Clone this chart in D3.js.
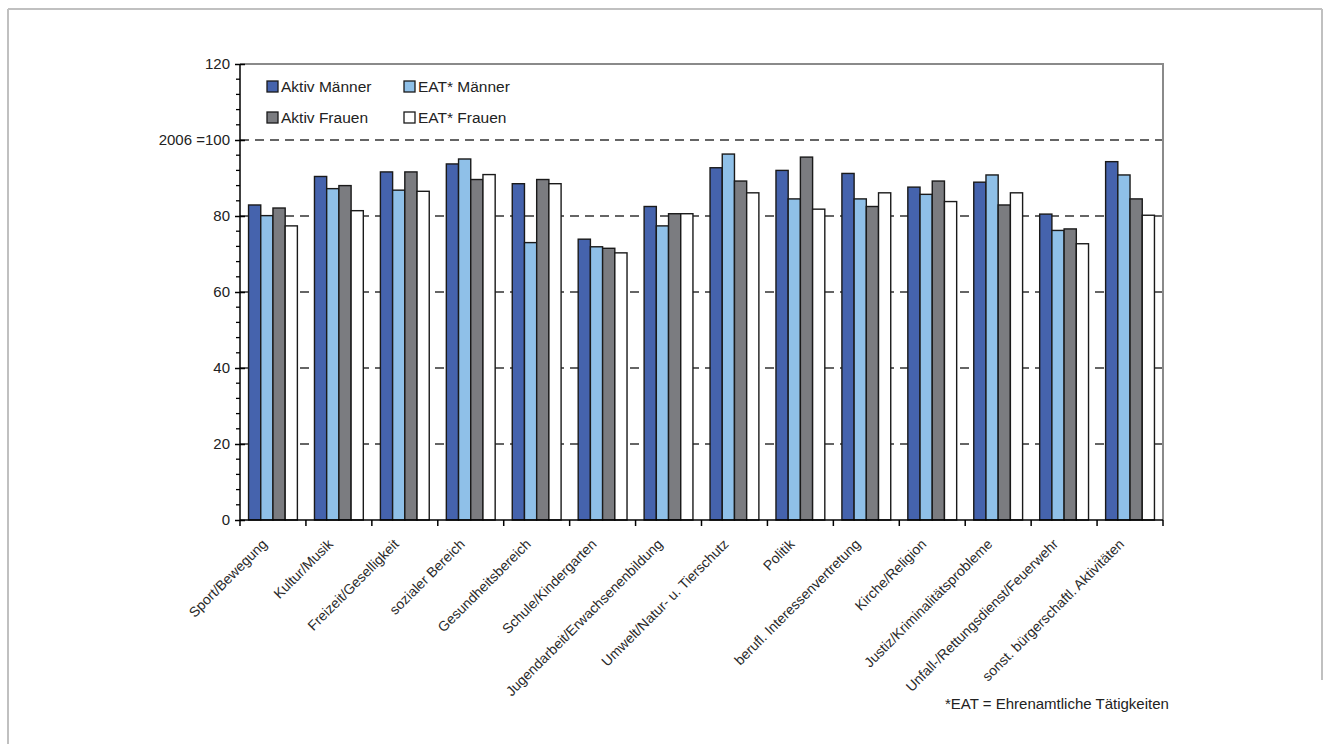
<!DOCTYPE html>
<html>
<head>
<meta charset="utf-8">
<script src="https://cdn.jsdelivr.net/npm/d3@7"></script>
<style>
  html, body { margin: 0; padding: 0; background: #fff; }
  svg { display: block; font-family: "Liberation Sans", Arial, sans-serif; }
</style>
</head>
<body>
<svg id="chart" width="1331" height="744"></svg>
<script>
// Engagement index by field, 2006 = 100
const categories = [
  "Sport/Bewegung", "Kultur/Musik", "Freizeit/Geselligkeit", "sozialer Bereich",
  "Gesundheitsbereich", "Schule/Kindergarten", "Jugendarbeit/Erwachsenenbildung",
  "Umwelt/Natur- u. Tierschutz", "Politik", "berufl. Interessenvertretung",
  "Kirche/Religion", "Justiz/Kriminalitätsprobleme", "Unfall-/Rettungsdienst/Feuerwehr",
  "sonst. bürgerschaftl. Aktivitäten"
];
const seriesNames = ["Aktiv Männer", "EAT* Männer", "Aktiv Frauen", "EAT* Frauen"];
const aktivMaenner = [82.9, 90.4, 91.6, 93.7, 88.5, 73.9, 82.5, 92.7, 92.0, 91.2, 87.6, 88.9, 80.5, 94.3];
const eatMaenner   = [80.1, 87.2, 86.8, 95.0, 73.0, 71.9, 77.4, 96.3, 84.5, 84.5, 85.7, 90.8, 76.2, 90.8];
const aktivFrauen  = [82.1, 88.0, 91.6, 89.6, 89.6, 71.5, 80.6, 89.2, 95.5, 82.5, 89.2, 82.9, 76.6, 84.5];
const eatFrauen    = [77.4, 81.4, 86.5, 90.9, 88.5, 70.3, 80.6, 86.1, 81.8, 86.1, 83.8, 86.1, 72.7, 80.2];
const yTicks = [0, 20, 40, 60, 80, 100, 120];
const yTickLabels = ["0", "20", "40", "60", "80", "2006 =100", "120"];
const footnote = "*EAT = Ehrenamtliche Tätigkeiten";

const seriesValues = [aktivMaenner, eatMaenner, aktivFrauen, eatFrauen];
const colors = ["#4563ad", "#8fc0e8", "#7b7c80", "#ffffff"];

const svg = d3.select("#chart");

// page frame
const frame = svg.append("g").attr("stroke", "#c0c0c0").attr("stroke-width", 2);
frame.append("line").attr("x1", 8).attr("x2", 1322).attr("y1", 9).attr("y2", 9);
frame.append("line").attr("x1", 8).attr("x2", 8).attr("y1", 9).attr("y2", 744);
frame.append("line").attr("x1", 1322).attr("x2", 1322).attr("y1", 9).attr("y2", 680);

const m = { left: 240, right: 1163, top: 64, bottom: 520 };

const x = d3.scaleBand().domain(categories).range([m.left, m.right]).paddingInner(0).paddingOuter(0);
const inner = d3.scaleBand().domain(d3.range(seriesNames.length))
  .range([0, x.bandwidth()]).paddingInner(0).paddingOuter(0.7);
const y = d3.scaleLinear().domain([0, 120]).range([m.bottom, m.top]);

// dashed reference lines
svg.append("g")
  .selectAll("line")
  .data(yTicks.filter(d => d > 0 && d < 120))
  .join("line")
  .attr("x1", m.left).attr("x2", m.right)
  .attr("y1", d => y(d)).attr("y2", d => y(d))
  .attr("stroke", "#333").attr("stroke-width", 1.6)
  .attr("stroke-dasharray", "9,6");

// plot border (top and right)
svg.append("path")
  .attr("d", `M${m.left},${m.top}H${m.right}V${m.bottom}`)
  .attr("fill", "none").attr("stroke", "#8a8a8a").attr("stroke-width", 2);

// bars
const groups = svg.append("g").selectAll("g")
  .data(categories)
  .join("g")
  .attr("transform", d => `translate(${x(d)},0)`);

groups.selectAll("rect")
  .data((d, i) => seriesValues.map((s, k) => ({ k, v: s[i] })))
  .join("rect")
  .attr("x", d => inner(d.k))
  .attr("width", inner.bandwidth())
  .attr("y", d => y(d.v))
  .attr("height", d => y(0) - y(d.v))
  .attr("fill", d => colors[d.k])
  .attr("stroke", "#1a1a1a")
  .attr("stroke-width", 1.4);

// y axis: major ticks labelled, minor ticks every 4
const yAxisG = svg.append("g").attr("transform", `translate(${m.left},0)`);
yAxisG.selectAll("line.minor")
  .data(d3.range(0, 121, 4).filter(d => d % 20 !== 0))
  .join("line").attr("class", "minor")
  .attr("x1", -4).attr("x2", 0)
  .attr("y1", d => y(d)).attr("y2", d => y(d))
  .attr("stroke", "#000").attr("stroke-width", 1.3);
const yAxis = d3.axisLeft(y).tickValues(yTicks)
  .tickFormat((d, i) => yTickLabels[i]).tickSize(5).tickPadding(5);
yAxisG.call(yAxis);
yAxisG.select(".domain").attr("stroke", "#000").attr("stroke-width", 1.5)
  .attr("d", `M0,${m.top}V${m.bottom}`);
yAxisG.selectAll(".tick line").attr("x1", 5).attr("x2", -5).attr("stroke", "#000").attr("stroke-width", 1.5);
yAxisG.selectAll(".tick text").attr("font-size", 15).attr("fill", "#222");

// x axis: ticks at category boundaries
const xAxisG = svg.append("g").attr("transform", `translate(0,${m.bottom})`);
xAxisG.append("line").attr("x1", m.left).attr("x2", m.right)
  .attr("stroke", "#000").attr("stroke-width", 1.5);
xAxisG.selectAll("line.tk")
  .data(categories.map(c => x(c)).concat([m.right]))
  .join("line").attr("class", "tk")
  .attr("x1", d => d).attr("x2", d => d)
  .attr("y1", 0).attr("y2", 6)
  .attr("stroke", "#000").attr("stroke-width", 1.5);
xAxisG.selectAll("text")
  .data(categories)
  .join("text")
  .attr("transform", d => `translate(${x(d) + x.bandwidth() / 2 - 5},${25}) rotate(-45)`)
  .attr("text-anchor", "end")
  .attr("font-size", 14)
  .attr("fill", "#2a2a2a")
  .text(d => d);

// legend
const legendPos = [[267, 81], [404, 81], [267, 112], [404, 112]];
const legend = svg.append("g").selectAll("g")
  .data(seriesNames)
  .join("g")
  .attr("transform", (d, i) => `translate(${legendPos[i][0]},${legendPos[i][1]})`);
legend.append("rect")
  .attr("width", 11).attr("height", 11)
  .attr("fill", (d, i) => colors[i])
  .attr("stroke", "#1a1a1a").attr("stroke-width", 1.3);
legend.append("text")
  .attr("x", 14).attr("y", 10.5)
  .attr("font-size", 15.5).attr("fill", "#222")
  .text(d => d);

// footnote
svg.append("text")
  .attr("x", 945).attr("y", 709)
  .attr("font-size", 15).attr("fill", "#222")
  .text(footnote);
</script>
</body>
</html>
